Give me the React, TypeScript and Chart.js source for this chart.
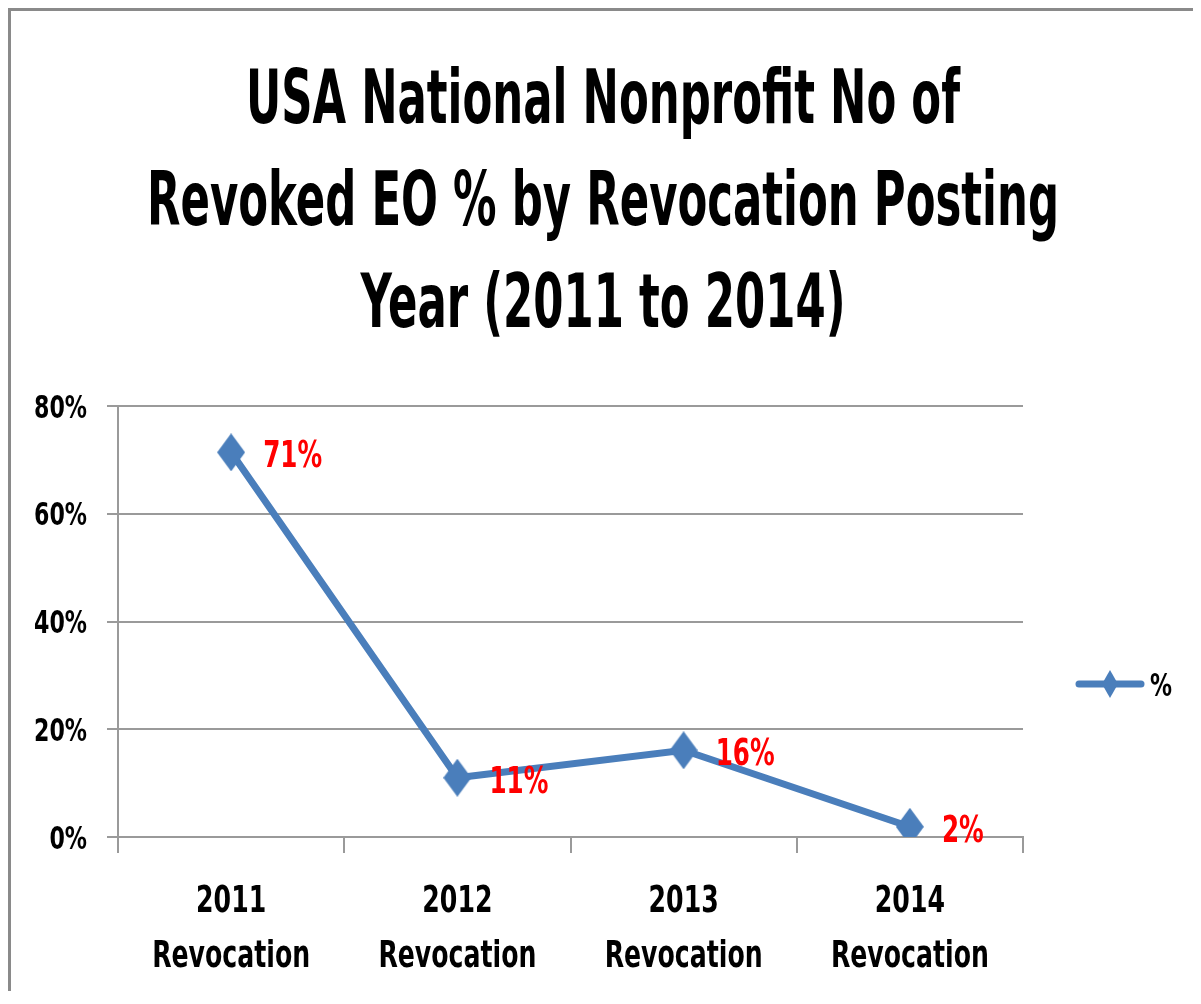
import React, { useEffect, useRef } from "react";
import { Chart, registerables } from "chart.js";

Chart.register(...registerables);

// ---- data ----
const CATEGORIES: string[][] = [
  ["2011", "Revocation"],
  ["2012", "Revocation"],
  ["2013", "Revocation"],
  ["2014", "Revocation"],
];
const SERIES_NAME = "%";
const VALUES: number[] = [0.714, 0.11, 0.161, 0.019];
const Y_MIN = 0;
const Y_MAX = 0.8;
const Y_STEP = 0.2;
const TITLE_LINES: string[] = [
  "USA National Nonprofit No of",
  "Revoked EO % by Revocation Posting",
  "Year (2011 to 2014)",
];

// ---- styles ----
const FONT = "'Liberation Sans Narrow', 'DejaVu Sans', sans-serif";
const BLUE = "#4a7ebb";
const GRID = "#9a9a9a";
const RED = "#ff0000";
const CANVAS_W = 1182;
const CANVAS_H = 980;
const CAP = 0.729; // cap-height ratio of the font

function makeDiamond(w: number, h: number, color: string): HTMLCanvasElement {
  const c = document.createElement("canvas");
  c.width = w;
  c.height = h;
  const g = c.getContext("2d")!;
  g.fillStyle = color;
  g.beginPath();
  g.moveTo(w / 2, 0);
  g.lineTo(w, h / 2);
  g.lineTo(w / 2, h);
  g.lineTo(0, h / 2);
  g.closePath();
  g.fill();
  return c;
}

const pct = (v: number) => Math.round(v * 100) + "%";

// draw text squeezed horizontally by sx around its anchor
function drawSqueezed(
  ctx: CanvasRenderingContext2D,
  text: string,
  x: number,
  y: number,
  sx: number,
  align: CanvasTextAlign
) {
  ctx.save();
  ctx.translate(x, y);
  ctx.scale(sx, 1);
  ctx.textAlign = align;
  ctx.textBaseline = "alphabetic";
  ctx.fillText(text, 0, 0);
  ctx.restore();
}

function fitScale(ctx: CanvasRenderingContext2D, font: string, sample: string, target: number) {
  ctx.save();
  ctx.font = font;
  const w = ctx.measureText(sample).width;
  ctx.restore();
  return target / w;
}

export default function App() {
  const ref = useRef<HTMLCanvasElement | null>(null);

  useEffect(() => {
    if (!ref.current) return;
    const pointImg = makeDiamond(28, 38, BLUE);
    const legendImg = makeDiamond(16, 28, BLUE);

    const textPlugin = {
      id: "squeezedText",
      afterDraw(chart: any) {
        const ctx = chart.ctx as CanvasRenderingContext2D;
        const area = chart.chartArea;
        ctx.save();
        ctx.fillStyle = "#000";

        // title
        const tFont = `bold 74px ${FONT}`;
        ctx.font = tFont;
        const widest = Math.max(...TITLE_LINES.map((t) => ctx.measureText(t).width));
        const tsx = 912 / widest;
        TITLE_LINES.forEach((t, i) => drawSqueezed(ctx, t, 592, 112 + i * 102, tsx, "center"));

        // y tick labels
        const ySize = 32;
        const yFont = `bold ${ySize}px ${FONT}`;
        const ysx = fitScale(ctx, yFont, "80%", 53);
        ctx.font = yFont;
        const ys = chart.scales.y;
        ys.ticks.forEach((tk: any) => {
          const py = ys.getPixelForValue(tk.value);
          drawSqueezed(ctx, pct(tk.value), area.left - 31, py + (CAP * ySize) / 2, ysx, "right");
        });

        // x tick labels
        const xSize = 38;
        const xFont = `bold ${xSize}px ${FONT}`;
        const xsx = fitScale(ctx, xFont, "Revocation", 158);
        ctx.font = xFont;
        const xs = chart.scales.x;
        CATEGORIES.forEach((lines, i) => {
          const px = xs.getPixelForValue(i);
          lines.forEach((ln, j) => drawSqueezed(ctx, ln, px, area.bottom + 75 + j * 55, xsx, "center"));
        });

        // legend
        const ly = 673;
        ctx.strokeStyle = BLUE;
        ctx.lineWidth = 7;
        ctx.lineCap = "round";
        ctx.beginPath();
        ctx.moveTo(1068, ly);
        ctx.lineTo(1130, ly);
        ctx.stroke();
        ctx.drawImage(legendImg, 1099 - legendImg.width / 2, ly - legendImg.height / 2);
        const lSize = 32;
        const lFont = `bold ${lSize}px ${FONT}`;
        const lsx = fitScale(ctx, lFont, "%", 22);
        ctx.font = lFont;
        drawSqueezed(ctx, SERIES_NAME, 1139, ly + (CAP * lSize) / 2, lsx, "left");
        ctx.restore();
      },
    };

    const labelPlugin = {
      id: "valueLabels",
      afterDatasetsDraw(chart: any) {
        const ctx = chart.ctx as CanvasRenderingContext2D;
        const meta = chart.getDatasetMeta(0);
        const size = 38;
        const font = `bold ${size}px ${FONT}`;
        const sx = fitScale(ctx, font, "71%", 59);
        ctx.save();
        ctx.font = font;
        ctx.fillStyle = RED;
        meta.data.forEach((pt: any, i: number) => {
          drawSqueezed(ctx, pct(VALUES[i]), pt.x + 32, pt.y + (CAP * size) / 2 + 1, sx, "left");
        });
        ctx.restore();
      },
    };

    const chart = new Chart(ref.current, {
      type: "line",
      data: {
        labels: CATEGORIES,
        datasets: [
          {
            label: SERIES_NAME,
            data: VALUES,
            borderColor: BLUE,
            backgroundColor: BLUE,
            borderWidth: 7,
            tension: 0,
            pointStyle: pointImg as any,
            pointRadius: 5,
            fill: false,
          },
        ],
      },
      options: {
        animation: false,
        responsive: false,
        devicePixelRatio: 1,
        layout: { padding: { top: 395, right: 170, bottom: 0, left: 0 } },
        plugins: {
          legend: { display: false },
          title: { display: false },
          tooltip: { enabled: false },
        },
        scales: {
          x: {
            type: "category",
            offset: true,
            grid: {
              offset: true,
              drawOnChartArea: false,
              drawTicks: true,
              tickLength: 16,
              color: GRID,
              lineWidth: 2,
            },
            border: { display: true, color: GRID, width: 2 },
            ticks: { display: false, autoSkip: false },
            afterFit: (s: any) => {
              s.height = 154;
            },
          },
          y: {
            min: Y_MIN,
            max: Y_MAX,
            grid: { color: GRID, lineWidth: 2, tickLength: 11 },
            border: { display: true, color: GRID, width: 2 },
            ticks: { stepSize: Y_STEP, display: false },
            afterFit: (s: any) => {
              s.width = 107;
            },
          },
        },
      },
      plugins: [labelPlugin, textPlugin],
    });

    return () => chart.destroy();
  }, []);

  return (
    <div
      style={{
        borderLeft: "3px solid #8a8a8a",
        borderTop: "3px solid #8a8a8a",
        width: CANVAS_W + 3,
        height: CANVAS_H,
        background: "#fff",
      }}
    >
      <canvas ref={ref} width={CANVAS_W} height={CANVAS_H} style={{ display: "block" }} />
    </div>
  );
}
